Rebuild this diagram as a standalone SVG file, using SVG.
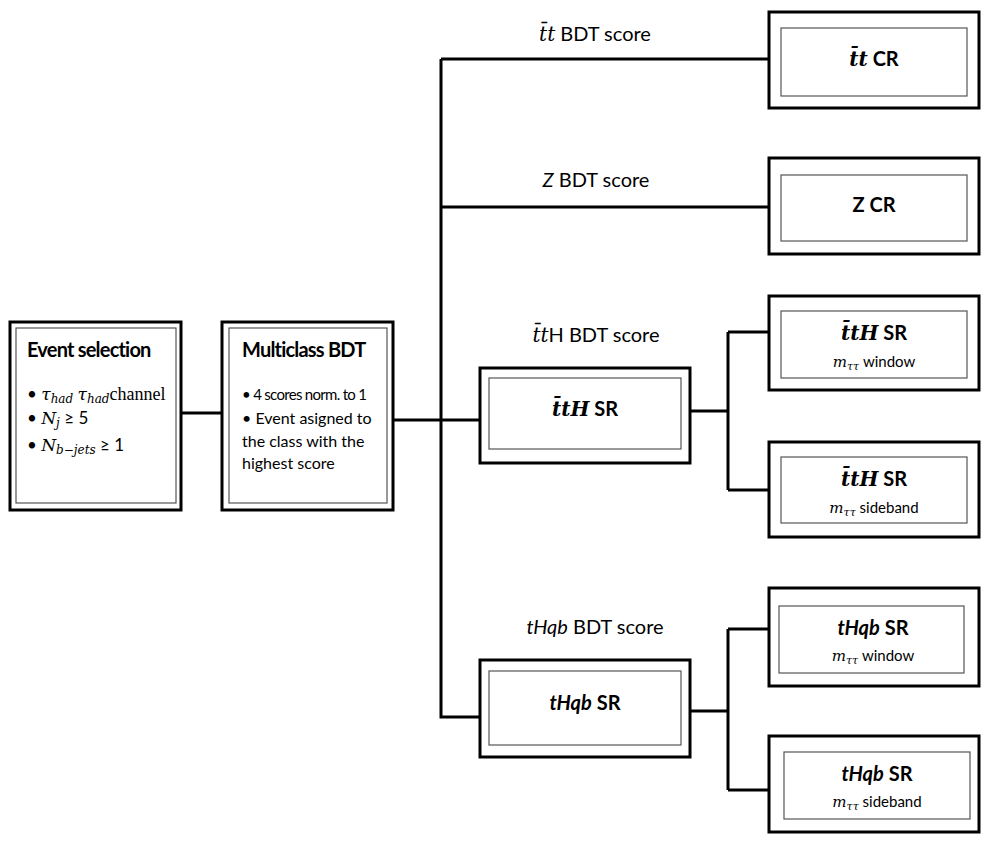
<svg xmlns="http://www.w3.org/2000/svg" width="993" height="852" viewBox="0 0 993 852">
<style>
.o{fill:#fff;stroke:#000;stroke-width:3}
.i{fill:#fff;stroke:#555;stroke-width:1.2}
.c{fill:none;stroke:#000;stroke-width:3}
text{font-family:Lato,"Open Sans",sans-serif;fill:#000}
.t{font-size:20px;font-weight:bold}
.m{font-family:"DejaVu Serif","Liberation Serif",serif;font-style:italic}
.lbl{font-size:20px}
.s{font-size:15px}
.b{font-size:16px}
</style>
<rect width="993" height="852" fill="#fff"/>
<g id="connectors">
<path class="c" d="M181 413H222"/>
<path class="c" d="M393 420H480"/>
<path class="c" d="M441 59V717H480"/>
<path class="c" d="M441 59H772"/>
<path class="c" d="M441 207H772"/>
<path class="c" d="M690 411H728M728 332V490M728 332H769M728 490H769"/>
<path class="c" d="M690 711H728M728 629V790M728 629H769M728 790H769"/>
</g>
<text class="lbl" x="595" y="41" text-anchor="middle"><tspan class="m">t̄t</tspan> BDT score</text>
<text class="lbl" x="596" y="187" text-anchor="middle"><tspan font-style="italic">Z</tspan> BDT score</text>
<text class="lbl" x="596" y="342" text-anchor="middle"><tspan class="m">t̄t</tspan>H BDT score</text>
<text class="lbl" x="595" y="634" text-anchor="middle"><tspan font-style="italic">tHqb</tspan> BDT score</text>
<g id="event-selection">
<rect class="o" x="10" y="322" width="171" height="188"/>
<rect class="i" x="16" y="328" width="160" height="175"/>
<text class="t" x="27" y="357" letter-spacing="-0.8">Event selection</text>
<text x="27" y="400" font-size="17">• <tspan class="m">τ</tspan><tspan class="m" font-size="12" dy="3">had</tspan><tspan dy="-3"> </tspan><tspan class="m">τ</tspan><tspan class="m" font-size="12" dy="3">had</tspan><tspan dy="-3" font-family="Liberation Serif" font-size="18">channel</tspan></text>
<text x="27" y="424" font-size="17">• <tspan class="m">N</tspan><tspan class="m" font-size="12" dy="3">j</tspan><tspan dy="-3"> ≥ 5</tspan></text>
<text x="27" y="451" font-size="17">• <tspan class="m">N</tspan><tspan class="m" font-size="12" dy="3">b−jets</tspan><tspan dy="-3"> ≥ 1</tspan></text>
</g>
<g id="multiclass-bdt">
<rect class="o" x="222" y="322" width="171" height="188"/>
<rect class="i" x="229" y="328" width="158" height="175"/>
<text class="t" x="242" y="357" letter-spacing="-0.8">Multiclass BDT</text>
<text x="242" y="400" font-size="15" letter-spacing="-0.7">• 4 scores norm. to 1</text>
<text class="b" x="242" y="424">• Event asigned to</text>
<text class="b" x="242" y="447">the class with the</text>
<text class="b" x="242" y="469">highest score</text>
</g>
<g id="tt-cr">
<rect class="o" x="769" y="12" width="210" height="96"/>
<rect class="i" x="781" y="28" width="186" height="68"/>
<text class="t" x="874" y="66" text-anchor="middle"><tspan class="m">t̄t</tspan> CR</text>
</g>
<g id="z-cr">
<rect class="o" x="769" y="158" width="210" height="96"/>
<rect class="i" x="781" y="175" width="186" height="66"/>
<text class="t" x="874" y="212" text-anchor="middle">Z CR</text>
</g>
<g id="tth-sr">
<rect class="o" x="480" y="368" width="210" height="95"/>
<rect class="i" x="489" y="378" width="192" height="71"/>
<text class="t" x="585" y="416" text-anchor="middle"><tspan class="m">t̄tH</tspan> SR</text>
</g>
<g id="tth-sr-window">
<rect class="o" x="769" y="296" width="210" height="94"/>
<rect class="i" x="781" y="311" width="186" height="67"/>
<text class="t" x="874" y="340" text-anchor="middle"><tspan class="m">t̄tH</tspan> SR</text>
<text class="s" x="874" y="367" text-anchor="middle"><tspan class="m" font-size="15">m</tspan><tspan class="m" font-size="11" dy="3">ττ</tspan><tspan dy="-3"> window</tspan></text>
</g>
<g id="tth-sr-sideband">
<rect class="o" x="769" y="442" width="210" height="95"/>
<rect class="i" x="781" y="457" width="186" height="66"/>
<text class="t" x="874" y="486" text-anchor="middle"><tspan class="m">t̄tH</tspan> SR</text>
<text class="s" x="874" y="513" text-anchor="middle"><tspan class="m" font-size="15">m</tspan><tspan class="m" font-size="11" dy="3">ττ</tspan><tspan dy="-3"> sideband</tspan></text>
</g>
<g id="thqb-sr">
<rect class="o" x="480" y="660" width="210" height="97"/>
<rect class="i" x="489" y="671" width="192" height="74"/>
<text class="t" x="585" y="710" text-anchor="middle"><tspan font-style="italic">tHqb</tspan> SR</text>
</g>
<g id="thqb-sr-window">
<rect class="o" x="769" y="588" width="210" height="98"/>
<rect class="i" x="779" y="606" width="185" height="67"/>
<text class="t" x="873" y="635" text-anchor="middle"><tspan font-style="italic">tHqb</tspan> SR</text>
<text class="s" x="873" y="661" text-anchor="middle"><tspan class="m" font-size="15">m</tspan><tspan class="m" font-size="11" dy="3">ττ</tspan><tspan dy="-3"> window</tspan></text>
</g>
<g id="thqb-sr-sideband">
<rect class="o" x="769" y="736" width="210" height="96"/>
<rect class="i" x="784" y="752" width="186" height="67"/>
<text class="t" x="877" y="781" text-anchor="middle"><tspan font-style="italic">tHqb</tspan> SR</text>
<text class="s" x="877" y="807" text-anchor="middle"><tspan class="m" font-size="15">m</tspan><tspan class="m" font-size="11" dy="3">ττ</tspan><tspan dy="-3"> sideband</tspan></text>
</g>
</svg>
